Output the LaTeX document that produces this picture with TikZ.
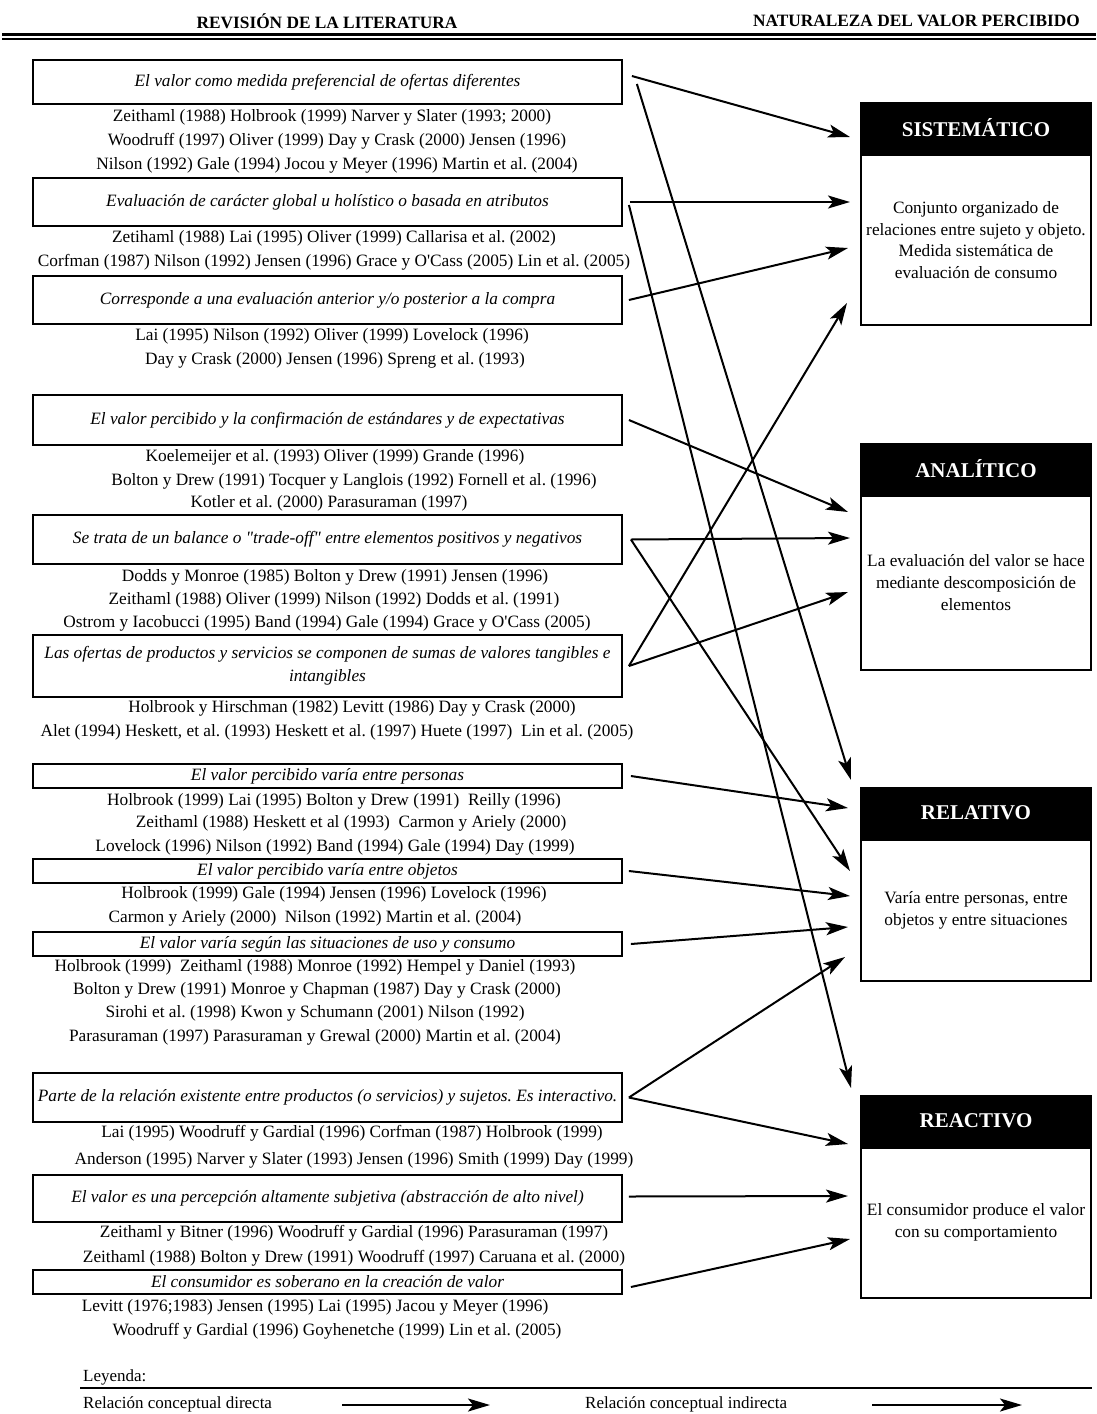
\documentclass[tikz,border=0pt]{standalone}
\usepackage{fontspec}
\setmainfont{Liberation Serif}
\usetikzlibrary{arrows.meta,positioning}

\begin{document}
\frenchspacing
\begin{tikzpicture}[
    x=1pt, y=-1pt,
    propbox/.style={draw, line width=1.8pt, minimum width=589pt, inner sep=1pt, align=center, font=\fontsize{17.3}{23}\selectfont\itshape},
    refline/.style={inner sep=0pt, text height=12pt, text depth=4pt, font=\fontsize{17.3}{20}\selectfont},
    cattitle/.style={draw=black, fill=black, line width=2pt, minimum width=230pt, minimum height=50pt, inner sep=0pt, text=white, font=\fontsize{21}{24}\selectfont\bfseries},
    catbody/.style={draw, line width=2pt, minimum width=230pt, inner sep=0pt, align=center, font=\fontsize{17.3}{21.7}\selectfont},
    conn/.style={line width=2pt, -{Stealth[length=22pt, width=13pt, inset=5pt]}},
    legtext/.style={anchor=west, inner sep=0pt, font=\fontsize{17}{19}\selectfont},
    headtext/.style={inner sep=0pt, font=\fontsize{17.3}{19}\selectfont\bfseries}
]
  \useasboundingbox (0,0) rectangle (1096,1414);

  % header
  \node[headtext] (hleft) at (327,21) {REVISIÓN DE LA LITERATURA};
  \node[headtext, anchor=east] (hright) at (1080,21) {NATURALEZA DEL VALOR PERCIBIDO};
  \draw[line width=3pt] (2,34) -- (1096,34);
  \draw[line width=1.5pt] (2,39) -- (1096,39);

  % propositions and references
  \node[propbox, minimum height=44pt] (val) at (327.5,82) {El valor como medida preferencial de ofertas diferentes};
  \node[refline] (val1) at (332,117) {Zeithaml (1988) Holbrook (1999) Narver y Slater (1993; 2000)};
  \node[refline] (val2) at (337,141) {Woodruff (1997) Oliver (1999) Day y Crask (2000) Jensen (1996)};
  \node[refline] (val3) at (337,165) {Nilson (1992) Gale (1994) Jocou y Meyer (1996) Martin et al. (2004)};

  \node[propbox, minimum height=48pt] (glob) at (327.5,202) {Evaluación de carácter global u holístico o basada en atributos};
  \node[refline] (glob1) at (334,238) {Zetihaml (1988) Lai (1995) Oliver (1999) Callarisa et al. (2002)};
  \node[refline] (glob2) at (334,262) {Corfman (1987) Nilson (1992) Jensen (1996) Grace y O\textquotesingle Cass (2005) Lin et al. (2005)};

  \node[propbox, minimum height=48pt] (eval) at (327.5,300) {Corresponde a una evaluación anterior y/o posterior a la compra};
  \node[refline] (eval1) at (332,336) {Lai (1995) Nilson (1992) Oliver (1999) Lovelock (1996)};
  \node[refline] (eval2) at (335,360) {Day y Crask (2000) Jensen (1996) Spreng et al. (1993)};

  \node[propbox, minimum height=50pt] (conf) at (327.5,420) {El valor percibido y la confirmación de estándares y de expectativas};
  \node[refline] (conf1) at (335,457) {Koelemeijer et al. (1993) Oliver (1999) Grande (1996)};
  \node[refline] (conf2) at (354,481) {Bolton y Drew (1991) Tocquer y Langlois (1992) Fornell et al. (1996)};
  \node[refline] (conf3) at (329,503) {Kotler et al. (2000) Parasuraman (1997)};

  \node[propbox, minimum height=49pt] (bal) at (327.5,539.5) {Se trata de un balance o \textquotedbl trade-off\textquotedbl{} entre elementos positivos y negativos};
  \node[refline] (bal1) at (335,577) {Dodds y Monroe (1985) Bolton y Drew (1991) Jensen (1996)};
  \node[refline] (bal2) at (334,600) {Zeithaml (1988) Oliver (1999) Nilson (1992) Dodds et al. (1991)};
  \node[refline] (bal3) at (327,623) {Ostrom y Iacobucci (1995) Band (1994) Gale (1994) Grace y O\textquotesingle Cass (2005)};

  \node[propbox, minimum height=62pt] (ofer) at (327.5,666) {Las ofertas de productos y servicios se componen de sumas de valores tangibles e\\intangibles};
  \node[refline] (ofer1) at (352,708) {Holbrook y Hirschman (1982) Levitt (1986) Day y Crask (2000)};
  \node[refline] (ofer2) at (337,732) {Alet (1994) Heskett, et al. (1993) Heskett et al. (1997) Huete (1997)\ \ Lin et al. (2005)};

  \node[propbox, minimum height=24pt] (pers) at (327.5,776) {El valor percibido varía entre personas};
  \node[refline] (pers1) at (334,801) {Holbrook (1999) Lai (1995) Bolton y Drew (1991)\ \ Reilly (1996)};
  \node[refline] (pers2) at (351,823) {Zeithaml (1988) Heskett et al (1993)\ \ Carmon y Ariely (2000)};
  \node[refline] (pers3) at (335,847) {Lovelock (1996) Nilson (1992) Band (1994) Gale (1994) Day (1999)};

  \node[propbox, minimum height=24pt] (obj) at (327.5,871) {El valor percibido varía entre objetos};
  \node[refline] (obj1) at (334,894) {Holbrook (1999) Gale (1994) Jensen (1996) Lovelock (1996)};
  \node[refline] (obj2) at (315,918) {Carmon y Ariely (2000)\ \ Nilson (1992) Martin et al. (2004)};

  \node[propbox, minimum height=24pt] (sit) at (327.5,944) {El valor varía según las situaciones de uso y consumo};
  \node[refline] (sit1) at (315,967) {Holbrook (1999)\ \ Zeithaml (1988) Monroe (1992) Hempel y Daniel (1993)};
  \node[refline] (sit2) at (317,990) {Bolton y Drew (1991) Monroe y Chapman (1987) Day y Crask (2000)};
  \node[refline] (sit3) at (315,1013) {Sirohi et al. (1998) Kwon y Schumann (2001) Nilson (1992)};
  \node[refline] (sit4) at (315,1037) {Parasuraman (1997) Parasuraman y Grewal (2000) Martin et al. (2004)};

  \node[propbox, minimum height=49pt] (inter) at (327.5,1097.5) {Parte de la relación existente entre productos (o servicios) y sujetos. Es interactivo.};
  \node[refline] (inter1) at (352,1133) {Lai (1995) Woodruff y Gardial (1996) Corfman (1987) Holbrook (1999)};
  \node[refline] (inter2) at (354,1160) {Anderson (1995) Narver y Slater (1993) Jensen (1996) Smith (1999) Day (1999)};

  \node[propbox, minimum height=47pt] (subj) at (327.5,1198.5) {El valor es una percepción altamente subjetiva (abstracción de alto nivel)};
  \node[refline] (subj1) at (354,1233) {Zeithaml y Bitner (1996) Woodruff y Gardial (1996) Parasuraman (1997)};
  \node[refline] (subj2) at (354,1258) {Zeithaml (1988) Bolton y Drew (1991) Woodruff (1997) Caruana et al. (2000)};

  \node[propbox, minimum height=24pt] (sob) at (327.5,1282) {El consumidor es soberano en la creación de valor};
  \node[refline] (sob1) at (315,1307) {Levitt (1976;1983) Jensen (1995) Lai (1995) Jacou y Meyer (1996)};
  \node[refline] (sob2) at (337,1331) {Woodruff y Gardial (1996) Goyhenetche (1999) Lin et al. (2005)};

  % categories
  \node[cattitle] (sisT) at (976,128) {SISTEMÁTICO};
  \node[catbody, minimum height=170pt, below=0pt of sisT] (sis) {Conjunto organizado de\\relaciones entre sujeto y objeto.\\Medida sistemática de\\evaluación de consumo};
  \node[cattitle] (anaT) at (976,468.5) {ANALÍTICO};
  \node[catbody, minimum height=174pt, below=0pt of anaT] (ana) {La evaluación del valor se hace\\mediante descomposición de\\elementos};
  \node[cattitle] (relT) at (976,812.5) {RELATIVO};
  \node[catbody, minimum height=141pt, below=0pt of relT] (rel) {Varía entre personas, entre\\objetos y entre situaciones};
  \node[cattitle] (reaT) at (976,1120.5) {REACTIVO};
  \node[catbody, minimum height=150pt, below=0pt of reaT] (rea) {El consumidor produce el valor\\con su comportamiento};

  % arrow tips in front of the categories
  \coordinate (sis1) at (850,137);
  \coordinate (sis2) at (850,202);
  \coordinate (sis3) at (848,248);
  \coordinate (sis4) at (847,303);
  \coordinate (ana1) at (848,512);
  \coordinate (ana2) at (850,538);
  \coordinate (ana3) at (848,592);
  \coordinate (rel1) at (851,780);
  \coordinate (rel2) at (848,808);
  \coordinate (rel3) at (850,871);
  \coordinate (rel4) at (850,896);
  \coordinate (rel5) at (848,927);
  \coordinate (rel6) at (845,957);
  \coordinate (rea1) at (851,1088);
  \coordinate (rea2) at (848,1144);
  \coordinate (rea3) at (848,1196);
  \coordinate (rea4) at (850,1239);

  \draw[conn] ([xshift=9pt,yshift=6pt]val.east) -- (sis1);
  \draw[conn] ([xshift=14pt,yshift=-2pt]val.east) -- (rel1);
  \draw[conn] ([xshift=7pt]glob.east) -- (sis2);
  \draw[conn] ([xshift=6pt,yshift=-3pt]glob.east) -- (rea1);
  \draw[conn] ([xshift=6pt]eval.east) -- (sis3);
  \draw[conn] ([xshift=6pt]conf.east) -- (ana1);
  \draw[conn] ([xshift=8pt]bal.east) -- (ana2);
  \draw[conn] ([xshift=8pt]bal.east) -- (rel3);
  \draw[conn] ([xshift=6pt]ofer.east) -- (sis4);
  \draw[conn] ([xshift=6pt]ofer.east) -- (ana3);
  \draw[conn] ([xshift=8pt]pers.east) -- (rel2);
  \draw[conn] ([xshift=6pt]obj.east) -- (rel4);
  \draw[conn] ([xshift=8pt]sit.east) -- (rel5);
  \draw[conn] ([xshift=6pt]inter.east) -- (rel6);
  \draw[conn] ([xshift=6pt]inter.east) -- (rea2);
  \draw[conn] ([xshift=6pt,yshift=2pt]subj.east) -- (rea3);
  \draw[conn] ([xshift=8pt,yshift=-5pt]sob.east) -- (rea4);

  % legend
  \node[legtext] (ley) at (83,1377) {Leyenda:};
  \draw[line width=1.5pt] (80,1388) -- (1092,1388);
  \node[legtext] (ldir) at (83,1404) {Relación conceptual directa};
  \node[legtext] (lind) at (585,1404) {Relación conceptual indirecta};
  \coordinate (ldA) at (342,1405);
  \coordinate (ldB) at (490,1405);
  \coordinate (liA) at (872,1405);
  \coordinate (liB) at (1022,1405);
  \draw[conn] (ldA) -- (ldB);
  \draw[conn] (liA) -- (liB);
\end{tikzpicture}
\end{document}
